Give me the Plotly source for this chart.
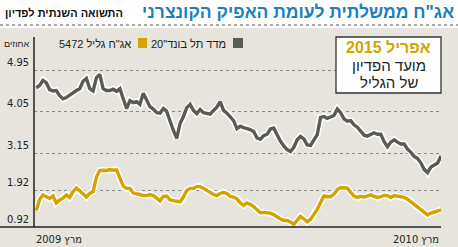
import numpy as np
import pandas as pd
import plotly.graph_objects as go

# ---------------- data ----------------
dates = pd.date_range("2009-03-03", periods=122, freq="3D")

telbond20 = [4.57, 4.62, 4.73, 4.68, 4.53, 4.50, 4.51, 4.40, 4.33, 4.36,
             4.41, 4.47, 4.51, 4.55, 4.71, 4.77, 4.55, 4.50, 4.79, 4.86,
             4.55, 4.51, 4.51, 4.54, 4.49, 4.55, 4.36, 4.12, 4.29, 4.25,
             4.27, 4.21, 4.45, 4.32, 4.16, 4.11, 4.03, 4.02, 4.12, 4.06,
             3.84, 3.65, 3.48, 3.80, 3.95, 4.14, 4.21, 4.08, 4.01, 4.10,
             4.03, 4.01, 4.00, 4.08, 4.15, 4.27, 4.08, 4.02, 3.95, 3.86,
             3.69, 3.74, 3.71, 3.69, 3.67, 3.63, 3.49, 3.46, 3.54, 3.57,
             3.68, 3.70, 3.54, 3.42, 3.32, 3.24, 3.20, 3.29, 3.45, 3.52,
             3.47, 3.34, 3.33, 3.46, 3.56, 3.93, 3.95, 3.91, 3.95, 3.97,
             4.11, 4.03, 3.90, 3.85, 3.86, 3.77, 3.72, 3.62, 3.55, 3.53,
             3.57, 3.60, 3.57, 3.57, 3.41, 3.30, 3.40, 3.45, 3.40, 3.36,
             3.36, 3.25, 3.18, 3.06, 2.99, 2.84, 2.62, 2.52, 2.71, 2.77,
             2.84, 3.08]

galil5472 = [1.37, 1.67, 1.80, 1.76, 1.70, 1.77, 1.58, 1.66, 1.71, 1.80,
             1.73, 1.89, 2.00, 1.91, 1.82, 1.74, 1.84, 1.89, 2.37, 2.59,
             2.60, 2.59, 2.62, 2.60, 2.61, 2.32, 2.07, 1.99, 1.99, 1.85,
             1.84, 1.81, 1.78, 1.78, 1.81, 1.78, 1.71, 1.63, 1.76, 1.77,
             1.66, 1.65, 1.63, 1.61, 1.74, 1.92, 1.99, 1.99, 2.05, 2.05,
             1.99, 1.92, 1.88, 1.81, 1.78, 1.84, 1.87, 1.84, 1.76, 1.74,
             1.69, 1.58, 1.51, 1.58, 1.54, 1.48, 1.39, 1.31, 1.32, 1.31,
             1.30, 1.26, 1.19, 1.14, 1.10, 1.10, 1.06, 0.99, 1.10, 1.21,
             1.14, 1.06, 1.13, 1.26, 1.40, 1.59, 1.77, 1.75, 1.75, 1.82,
             1.95, 2.02, 2.02, 2.00, 1.87, 1.77, 1.73, 1.76, 1.74, 1.77,
             1.80, 1.76, 1.73, 1.75, 1.79, 1.78, 1.73, 1.78, 1.76, 1.73,
             1.73, 1.68, 1.61, 1.52, 1.47, 1.39, 1.32, 1.25, 1.30, 1.33,
             1.36, 1.39]

tick_values = [0.92, 1.92, 3.15, 4.05, 4.95]
tick_labels = ["0.92", "1.92", "3.15", "4.05", "4.95"]

# piecewise-linear value scale of the original chart (tick value -> axis position)
tick_pos = [0.0, 36.5, 73.2, 115.2, 156.8]


def scale(vals):
    return np.interp(np.asarray(vals, dtype=float), tick_values, tick_pos)


RLE, PDF = "\u202b", "\u202c"


def rtl(s):
    return RLE + s + PDF


GRAY = "#5a5a56"
GOLD = "#d6a200"
BLUE = "#1c7fc2"
BG = "#e6e4dc"
FONT = "Liberation Sans, Arial, sans-serif"
TFONT = "DejaVu Sans Condensed, Liberation Sans, sans-serif"

W, H = 458, 247
L, R, T, B = 34, 17, 37, 20
PW, PH = W - L - R, H - T - B


def px(xp):
    return (xp - L) / PW


def py(yp):
    return (H - B - yp) / PH


fig = go.Figure()

for series, col in ((telbond20, GRAY), (galil5472, GOLD)):
    fig.add_trace(go.Scatter(x=dates, y=scale(series), mode="lines",
                             line=dict(color="white", width=6.5), hoverinfo="skip",
                             showlegend=False))
    fig.add_trace(go.Scatter(x=dates, y=scale(series), mode="lines",
                             line=dict(color=col, width=3.4), showlegend=False))

shapes = [
    dict(type="rect", xref="paper", yref="paper", x0=px(0), x1=px(W), y0=py(H), y1=py(28),
         fillcolor=BG, line=dict(width=0), layer="below"),
    dict(type="line", xref="paper", yref="paper", x0=px(0), x1=px(W), y0=py(25), y1=py(25),
         line=dict(color="#555", width=1.2, dash="dot")),
    dict(type="line", xref="paper", yref="paper", x0=px(0), x1=1, y0=0, y1=0,
         line=dict(color="#222", width=1.5)),
    dict(type="line", xref="paper", yref="paper", x0=0, x1=0, y0=0, y1=1,
         line=dict(color="#222", width=1.5)),
    dict(type="rect", xref="paper", yref="paper", x0=px(233), x1=px(243), y0=py(48), y1=py(38),
         fillcolor=GRAY, line=dict(width=0)),
    dict(type="rect", xref="paper", yref="paper", x0=px(138), x1=px(147), y0=py(48), y1=py(38),
         fillcolor=GOLD, line=dict(width=0)),
    dict(type="rect", xref="paper", yref="paper", x0=px(336), x1=px(441), y0=py(93), y1=py(37),
         fillcolor="white", line=dict(color="#333", width=1.3)),
]

ann = []
for v, lab in zip(scale(tick_values), tick_labels):
    ann.append(dict(xref="paper", yref="y", x=px(31), y=v, yshift=8, text=lab,
                    showarrow=False, xanchor="right", yanchor="middle",
                    font=dict(family=TFONT, size=11, color="#222")))

ann += [
    dict(xref="paper", yref="paper", x=px(31), y=py(44), text=rtl("אחוזים"), showarrow=False,
         xanchor="right", yanchor="middle", font=dict(family=FONT, size=9, color="#222")),
    dict(xref="paper", yref="paper", x=px(228), y=py(44), text=rtl('מדד תל בונד"20'),
         showarrow=False, xanchor="right", yanchor="middle",
         font=dict(family=FONT, size=11, color="#222")),
    dict(xref="paper", yref="paper", x=px(133), y=py(44), text=rtl('אג"ח גליל 5472'),
         showarrow=False, xanchor="right", yanchor="middle",
         font=dict(family=FONT, size=11, color="#222")),
    dict(xref="paper", yref="paper", x=px(388.5), y=py(48), text="<b>" + rtl("אפריל 2015") + "</b>",
         showarrow=False, xanchor="center", yanchor="middle",
         font=dict(family=FONT, size=16, color=GOLD)),
    dict(xref="paper", yref="paper", x=px(388.5), y=py(65.5), text=rtl("מועד הפדיון"),
         showarrow=False, xanchor="center", yanchor="middle",
         font=dict(family=FONT, size=15, color="#222")),
    dict(xref="paper", yref="paper", x=px(388.5), y=py(82), text=rtl("של הגליל"),
         showarrow=False, xanchor="center", yanchor="middle",
         font=dict(family=FONT, size=15, color="#222")),
    dict(xref="paper", yref="paper", x=0, y=py(239), text=rtl("מרץ 2009"),
         showarrow=False, xanchor="left", yanchor="middle",
         font=dict(family=TFONT, size=11, color="#222")),
    dict(xref="paper", yref="paper", x=1, y=py(239), text=rtl("מרץ 2010"),
         showarrow=False, xanchor="right", yanchor="middle",
         font=dict(family=TFONT, size=11, color="#222")),
    dict(xref="paper", yref="paper", x=px(456), y=py(12), text="<b>" + rtl('אג"ח ממשלתית לעומת האפיק הקונצרני') + "</b>",
         showarrow=False, xanchor="right", yanchor="middle",
         font=dict(family=FONT, size=17.5, color=BLUE)),
    dict(xref="paper", yref="paper", x=px(3), y=py(13), text="<b>" + rtl("התשואה השנתית לפדיון") + "</b>",
         showarrow=False, xanchor="left", yanchor="middle",
         font=dict(family=FONT, size=11, color="#111")),
]

fig.update_layout(
    width=W, height=H,
    margin=dict(l=L, r=R, t=T, b=B, pad=0),
    paper_bgcolor="white", plot_bgcolor=BG,
    shapes=shapes, annotations=ann, showlegend=False,
    xaxis=dict(range=["2009-03-01", "2010-03-01"], showgrid=False, showticklabels=False,
               zeroline=False, showline=False, ticks=""),
    yaxis=dict(range=[0, PH], tickvals=list(scale(tick_values))[1:], showticklabels=False,
               showgrid=True, gridcolor="#8a8a86", gridwidth=1, griddash="dot",
               zeroline=False, showline=False, ticks=""),
)

fig.write_html("out.html")
